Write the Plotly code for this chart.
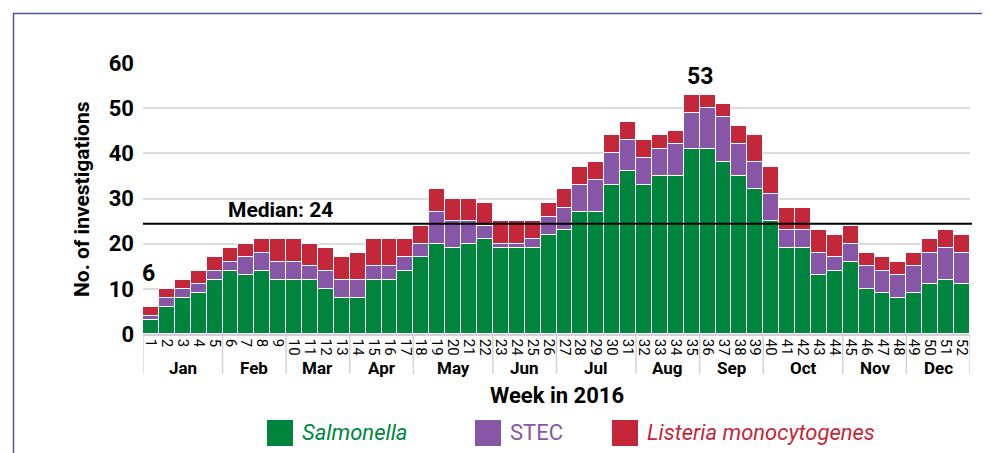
import plotly.graph_objects as go

weeks = list(range(1, 53))
salmonella = [3, 6, 8, 9, 12, 14, 13, 14, 12, 12, 12, 10, 8, 8, 12, 12, 14, 17, 20, 19,
              20, 21, 19, 19, 19, 22, 23, 27, 27, 33, 36, 33, 35, 35, 41, 41, 38, 35, 32, 25,
              19, 19, 13, 14, 16, 10, 9, 8, 9, 11, 12, 11]
stec = [1, 2, 2, 2, 2, 2, 4, 4, 4, 4, 3, 4, 4, 4, 3, 3, 3, 3, 7, 6,
        5, 3, 1, 1, 2, 4, 5, 6, 7, 7, 7, 6, 6, 7, 8, 9, 10, 7, 6, 6,
        4, 4, 5, 3, 4, 5, 5, 5, 6, 7, 7, 7]
listeria = [2, 2, 2, 3, 3, 3, 3, 3, 5, 5, 5, 5, 5, 6, 6, 6, 4, 4, 5, 5,
            5, 5, 5, 5, 4, 3, 4, 4, 4, 4, 4, 4, 3, 3, 4, 3, 3, 4, 6, 6,
            5, 5, 5, 5, 4, 3, 3, 3, 3, 3, 4, 4]
months = ["Jan", "Feb", "Mar", "Apr", "May", "Jun", "Jul", "Aug", "Sep", "Oct", "Nov", "Dec"]
month_weeks = [5, 4, 4, 4, 5, 4, 5, 4, 4, 5, 4, 4]
median_label = "Median: 24"
median_line = 24.4
y_ticks = [0, 10, 20, 30, 40, 50, 60]

GREEN = "#00853F"
PURPLE = "#8856A7"
RED = "#C4273A"
FONT = "Roboto, Liberation Sans, sans-serif"

totals = [a + b + c for a, b, c in zip(salmonella, stec, listeria)]

fig = go.Figure()
for name, vals, col in [("Salmonella", salmonella, GREEN), ("STEC", stec, PURPLE),
                        ("Listeria monocytogenes", listeria, RED)]:
    fig.add_trace(go.Bar(x=weeks, y=vals, name=name, marker=dict(color=col, line=dict(color="white", width=1.2)),
                         showlegend=False))

W, H = 990, 453
ml, mr, mt, mb = 135, 28, 55, 127
pw, ph = W - ml - mr, H - mt - mb

def px_x(p):
    return (p - ml) / pw

def px_y(p):
    return (H - mb - p) / ph

shapes = []
shapes.append(dict(type="line", xref="paper", yref="y", x0=0, x1=px_x(964), y0=median_line, y1=median_line,
                   line=dict(color="black", width=2)))
b = 0.5
bounds = [b]
for n in month_weeks:
    b += n
    bounds.append(b)
for xb in bounds:
    shapes.append(dict(type="line", xref="x", yref="paper", x0=xb, x1=xb, y0=0, y1=px_y(366),
                       line=dict(color="#d3d3d3", width=1.5)))
shapes.append(dict(type="rect", xref="paper", yref="paper", x0=px_x(5.5), x1=px_x(985), y0=px_y(470), y1=px_y(5.5),
                   line=dict(color="#55559a", width=1.5), fillcolor="rgba(0,0,0,0)", layer="below"))

annotations = []
for m, lo, hi in zip(months, bounds[:-1], bounds[1:]):
    annotations.append(dict(text=m, x=(lo + hi) / 2, y=px_y(360), xref="x", yref="paper", showarrow=False,
                            font=dict(family=FONT, size=17, color="black", weight="bold"), yanchor="middle"))
annotations.append(dict(text="Week in 2016", x=0.5, y=px_y(387), xref="paper", yref="paper", showarrow=False,
                        font=dict(family=FONT, size=22, color="black", weight="bold"), yanchor="middle"))
annotations.append(dict(text="No. of investigations", x=px_x(74), y=px_y(191), xref="paper", yref="paper",
                        showarrow=False, textangle=-90,
                        font=dict(family=FONT, size=21, color="black", weight="bold"), xanchor="center", yanchor="middle"))
annotations.append(dict(text=median_label, x=px_x(218), y=median_line, xref="paper", yref="y", showarrow=False,
                        xanchor="left", yanchor="bottom", yshift=0,
                        font=dict(family=FONT, size=21, color="black", weight="bold")))
annotations.append(dict(text=str(totals[0]), x=weeks[0], y=totals[0], xref="x", yref="y", showarrow=False,
                        yanchor="bottom", yshift=18, xshift=-2,
                        font=dict(family=FONT, size=23, color="black", weight="bold")))
peak = max(totals)
peak_weeks = [w for w, t in zip(weeks, totals) if t == peak]
annotations.append(dict(text=str(peak), x=sum(peak_weeks) / len(peak_weeks), y=peak, xref="x", yref="y",
                        showarrow=False, yanchor="bottom", yshift=3,
                        font=dict(family=FONT, size=23, color="black", weight="bold")))

legend_items = [("Salmonella", GREEN, 259, True), ("STEC", PURPLE, 467, False),
                ("Listeria monocytogenes", RED, 604, True)]
for name, col, x0, ital in legend_items:
    shapes.append(dict(type="rect", xref="paper", yref="paper", x0=px_x(x0), x1=px_x(x0 + 26),
                       y0=px_y(438), y1=px_y(412), fillcolor=col, line=dict(width=0)))
    annotations.append(dict(text=name, x=px_x(x0 + 33), y=px_y(424), xref="paper", yref="paper", showarrow=False,
                            xanchor="left", yanchor="middle",
                            font=dict(family=FONT, size=22, color=col, style="italic" if ital else "normal")))

fig.update_layout(
    barmode="stack", bargap=0,
    width=W, height=H,
    margin=dict(l=ml, r=mr, t=mt, b=mb, autoexpand=False),
    plot_bgcolor="white", paper_bgcolor="white",
    shapes=shapes, annotations=annotations,
    xaxis=dict(range=[0.5, 52.5], tickmode="array", tickvals=weeks, ticktext=[str(w) for w in weeks],
               tickangle=90, tickfont=dict(family=FONT, size=15, color="black"), showgrid=False,
               showline=True, linecolor="#d3d3d3", linewidth=1.5, ticks="", zeroline=False),
    yaxis=dict(range=[0, 60], tickvals=y_ticks, tickfont=dict(family=FONT, size=22, color="black", weight="bold"),
               showgrid=True, gridcolor="#dcdcdc", gridwidth=1.5, zeroline=False, ticks="",
               ticklabelstandoff=8, showline=False),
)

fig.write_html("out.html")
